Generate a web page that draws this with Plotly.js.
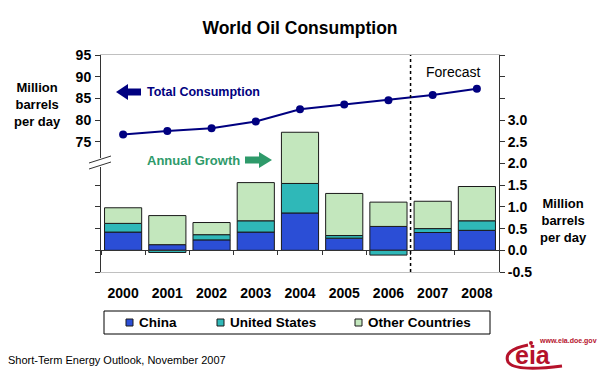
<!DOCTYPE html>
<html>
<head>
<meta charset="utf-8">
<script src="https://cdn.plot.ly/plotly-3.0.1.min.js"></script>
<style>
html,body{margin:0;padding:0;background:#fff;}
#chart{width:600px;height:376px;}
</style>
</head>
<body>
<div id="chart"></div>
<script>
// ---- data ----
const years = ['2000','2001','2002','2003','2004','2005','2006','2007','2008'];
const totalConsumption = [76.7, 77.5, 78.1, 79.7, 82.5, 83.6, 84.6, 85.8, 87.2];
const chinaGrowth = [0.42, 0.13, 0.24, 0.42, 0.86, 0.28, 0.55, 0.41, 0.46];
const usGrowth = [0.20, -0.05, 0.12, 0.26, 0.68, 0.06, -0.11, 0.09, 0.22];
const otherGrowth = [0.36, 0.67, 0.28, 0.88, 1.18, 0.97, 0.56, 0.63, 0.79];
const seriesNames = ['China', 'United States', 'Other Countries'];
const leftTicks = [45, 50, 55, 60, 65, 75, 80, 85, 90, 95];
const leftTickText = ['', '', '', '', '', '75', '80', '85', '90', '95'];
const rightTicks = [-0.5, 0, 0.5, 1, 1.5, 2, 2.5, 3, 3.5, 4, 4.5];
const rightTickText = ['-0.5', '0.0', '0.5', '1.0', '1.5', '2.0', '2.5', '3.0', '', '', ''];

// ---- styles ----
const colors = ['#2b4ed6', '#2fb8b8', '#c3e7bd'];
const FONT = 'Liberation Sans, Arial, sans-serif';
const barLine = {color: '#1a1a1a', width: 1};

// ---- geometry helpers (pixel -> paper) ----
const L = 101, R = 499, T = 55, B = 272;
const fx = x => (x - L) / (R - L);
const fy = y => (B - y) / (B - T);
function path(pts){ return 'M ' + pts.map(p => fx(p[0]) + ',' + fy(p[1])).join(' L ') + ' Z'; }

const seriesValues = [chinaGrowth, usGrowth, otherGrowth];
const traces = seriesValues.map((vals, i) => ({
  type:'bar', name:seriesNames[i], x:years, y:vals, xaxis:'x2', yaxis:'y2', showlegend:false,
  marker:{color:colors[i], line:barLine}
}));
traces.push({type:'scatter', mode:'lines+markers', name:'Total Consumption', x:years, y:totalConsumption,
   xaxis:'x', yaxis:'y', showlegend:false,
   line:{color:'#000080', width:2}, marker:{color:'#000080', size:8}});

// legend (drawn box)
const legendSquareX = [126, 217, 355];
const legendShapes = [{type:'rect', xref:'paper', yref:'paper', x0:fx(104), x1:fx(490), y0:fy(334), y1:fy(311),
  fillcolor:'#fff', line:{color:'#000', width:1}}];
const legendAnn = [];
seriesNames.forEach((n, i) => {
  legendShapes.push({type:'rect', xref:'paper', yref:'paper', x0:fx(legendSquareX[i]), x1:fx(legendSquareX[i]+7),
    y0:fy(326), y1:fy(319), fillcolor:colors[i], line:{color:'#1a1a1a', width:1}});
  legendAnn.push({xref:'paper', yref:'paper', x:fx(legendSquareX[i]+11), y:fy(322.5), xanchor:'left', yanchor:'middle',
    showarrow:false, text:'<b>' + n + '</b>', font:{size:13.5, family:FONT, color:'#000'}});
});

const layout = {
  width:600, height:376,
  margin:{l:L, r:600-R, t:T, b:376-B, pad:0},
  paper_bgcolor:'#ffffff', plot_bgcolor:'#ffffff',
  font:{family:FONT, color:'#000'},
  barmode:'relative', bargap:0.16, showlegend:false,
  title:{text:'<b>World Oil Consumption</b>', x:0.5, xanchor:'center', y:1-28/376, yanchor:'middle',
         font:{size:17.5, family:FONT, color:'#000'}},
  xaxis:{type:'category', categoryarray:years, range:[-0.5, 8.5], showline:true, linecolor:'#c0c0c0',
         linewidth:1, mirror:true, ticks:'', showgrid:false, zeroline:false,
         tickfont:{size:14, family:FONT, color:'#000', weight:'bold'}, ticklabelstandoff:8},
  xaxis2:{type:'category', categoryarray:years, range:[-0.5, 8.5], overlaying:'x', anchor:'free', position:0.1,
          showline:true, linecolor:'#333', linewidth:1, ticks:'outside', ticklen:4, tickcolor:'#333',
          tickson:'boundaries', showticklabels:false, showgrid:false, zeroline:false},
  yaxis:{range:[45, 95], tickvals:leftTicks, ticktext:leftTickText, ticks:'outside', ticklen:5,
         tickcolor:'#333', showline:true, linecolor:'#333', linewidth:1, showgrid:false, zeroline:false,
         tickfont:{size:14, family:FONT, color:'#000', weight:'bold'}, ticklabelstandoff:1},
  yaxis2:{range:[-0.5, 4.5], overlaying:'y', side:'right', anchor:'x', tickvals:rightTicks, ticktext:rightTickText,
          ticks:'outside', ticklen:5, tickcolor:'#333', showline:true, linecolor:'#333', linewidth:1,
          showgrid:false, zeroline:false,
          tickfont:{size:14, family:FONT, color:'#000', weight:'bold'}},
  shapes:[
    // forecast divider
    {type:'line', xref:'x', yref:'paper', x0:6.5, x1:6.5, y0:0, y1:1,
     line:{color:'#000', width:1.5, dash:'dot'}},
    // axis break
    {type:'rect', xref:'paper', yref:'paper', x0:fx(98), x1:fx(104), y0:fy(167), y1:fy(158),
     fillcolor:'#fff', line:{width:0}},
    {type:'line', xref:'paper', yref:'paper', x0:fx(89), y0:fy(163), x1:fx(111), y1:fy(156),
     line:{color:'#333', width:1}},
    {type:'line', xref:'paper', yref:'paper', x0:fx(89), y0:fy(169), x1:fx(111), y1:fy(162),
     line:{color:'#333', width:1}},
    // left arrow (Total Consumption)
    {type:'path', xref:'paper', yref:'paper', line:{width:0}, fillcolor:'#000080',
     path:path([[116,92],[128,84],[128,88.5],[141,88.5],[141,95.5],[128,95.5],[128,100]])},
    // right arrow (Annual Growth)
    {type:'path', xref:'paper', yref:'paper', line:{width:0}, fillcolor:'#2e9a6a',
     path:path([[272,160],[259,152],[259,156.5],[245,156.5],[245,163.5],[259,163.5],[259,168]])},
    // logo swoosh
    {type:'path', xref:'paper', yref:'paper', line:{color:'#b5122b', width:3},
     path:'M ' + fx(528) + ',' + fy(345) + ' Q ' + fx(503) + ',' + fy(350) + ' ' + fx(508) + ',' + fy(362) +
          ' Q ' + fx(515) + ',' + fy(372) + ' ' + fx(562) + ',' + fy(366)},
    {type:'circle', xref:'paper', yref:'paper', x0:fx(529), x1:fx(533), y0:fy(345), y1:fy(341),
     fillcolor:'#b5122b', line:{width:0}}
  ].concat(legendShapes),
  annotations:[
    {xref:'paper', yref:'paper', x:fx(37), y:fy(104), xanchor:'center', yanchor:'middle', showarrow:false,
     text:'<b>Million<br>barrels<br>per day</b>', font:{size:13, family:FONT, color:'#000'}},
    {xref:'paper', yref:'paper', x:fx(563), y:fy(220), xanchor:'center', yanchor:'middle', showarrow:false,
     text:'<b>Million<br>barrels<br>per day</b>', font:{size:13, family:FONT, color:'#000'}},
    {xref:'paper', yref:'paper', x:fx(145), y:fy(92), xanchor:'left', yanchor:'middle', showarrow:false,
     text:'<b>Total Consumption</b>', font:{size:12.5, family:FONT, color:'#000080'}},
    {xref:'paper', yref:'paper', x:fx(145), y:fy(160), xanchor:'left', yanchor:'middle', showarrow:false,
     text:'<b>Annual Growth</b>', font:{size:13, family:FONT, color:'#2e9a6a'}},
    {xref:'paper', yref:'paper', x:fx(453), y:fy(72), xanchor:'center', yanchor:'middle', showarrow:false,
     text:'Forecast', font:{size:14, family:FONT, color:'#000'}},
    {xref:'paper', yref:'paper', x:fx(6), y:fy(360), xanchor:'left', yanchor:'middle', showarrow:false,
     text:'Short-Term Energy Outlook, November 2007', font:{size:11, family:FONT, color:'#000'}},
    {xref:'paper', yref:'paper', x:fx(533), y:fy(371), xanchor:'center', yanchor:'bottom', showarrow:false,
     text:'<b>eia</b>', font:{size:25, family:FONT, color:'#b5122b'}},
    {xref:'paper', yref:'paper', x:fx(537), y:fy(341), xanchor:'left', yanchor:'middle', showarrow:false,
     text:'<b>www.eia.doe.gov</b>', font:{size:7, family:FONT, color:'#b5122b'}}
  ].concat(legendAnn)
};

Plotly.newPlot('chart', traces, layout, {displayModeBar:false, staticPlot:true});
</script>
</body>
</html>
